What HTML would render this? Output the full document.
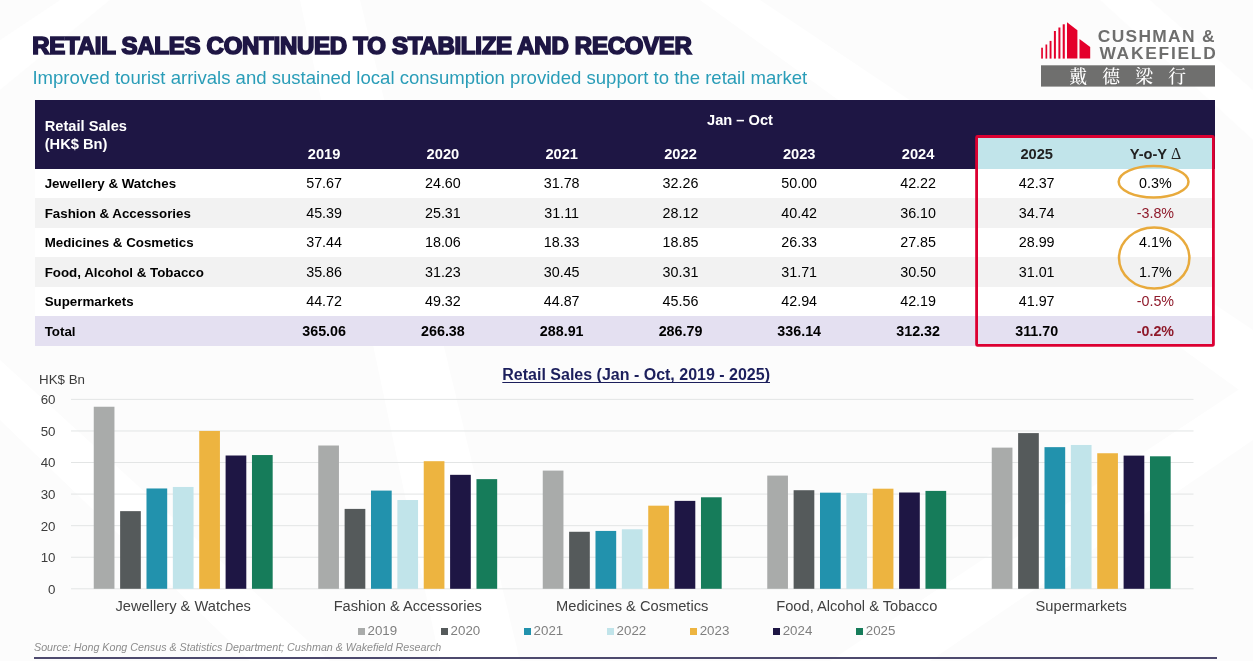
<!DOCTYPE html>
<html lang="en"><head><meta charset="utf-8"><title>Retail Sales</title>
<style>
html,body{margin:0;padding:0;}
body{width:1253px;height:661px;position:relative;overflow:hidden;background:#fefefe;font-family:"Liberation Sans","Noto Sans CJK SC",sans-serif;color:#000;}
.abs{position:absolute;white-space:nowrap;}
#sub{left:32.4px;top:66.8px;font-size:18.57px;line-height:22px;color:#2a9db8;}
#thead{left:35px;top:100px;width:1180px;height:69px;background:#1e1644;}
.row{left:35px;width:1180px;}
.c{position:absolute;white-space:nowrap;transform:translateX(-50%);font-size:13.33px;line-height:16px;text-align:center;}
.l{position:absolute;white-space:nowrap;left:44.7px;font-size:13.33px;line-height:16px;font-weight:bold;}
.b{font-weight:bold;}
.n{font-size:14.3px;}
.w{color:#fff;}
.red{color:#8f1a2b;}
#bluehd{left:978px;top:138px;width:234.5px;height:31px;background:#c1e4ea;}
.cat{position:absolute;transform:translateX(-50%);white-space:nowrap;font-size:14.67px;line-height:18px;color:#404040;top:597px;}
.leg{position:absolute;white-space:nowrap;font-size:13.33px;line-height:16px;color:#7f7f7f;top:623px;}
.leg i{position:absolute;left:0;top:5px;width:7px;height:7px;}
.leg span{margin-left:9.5px;}
</style></head><body>

<svg class="abs" id="bg" style="left:0;top:0;" width="1253" height="661" viewBox="0 0 1253 661"><rect width="1253" height="661" fill="#fcfcfc"/><g fill="#ffffff"><polygon points="0,40 60,0 110,0 0,90"/><polygon points="300,0 360,0 520,661 440,661"/><polygon points="700,0 760,0 1253,330 1253,400"/><polygon points="1100,0 1150,0 1253,90 1253,140"/><polygon points="830,661 1253,380 1253,440 930,661"/><polygon points="0,420 0,360 330,661 250,661"/></g></svg>
<svg class="abs" id="title" style="left:20px;top:25px;" width="700" height="40" viewBox="20 25 700 40"><text x="32.3" y="53.6" font-family="Liberation Sans, sans-serif" font-weight="bold" font-size="24" letter-spacing="-0.27" word-spacing="0" fill="#1e1644" stroke="#1e1644" stroke-width="1.7" stroke-linejoin="miter" paint-order="stroke fill">RETAIL SALES CONTINUED TO STABILIZE AND RECOVER</text></svg>
<div class="abs" id="sub">Improved tourist arrivals and sustained local consumption provided support to the retail market</div>
<svg class="abs" id="logo" style="left:1036px;top:18px;" width="184" height="72" viewBox="1036 18 184 72">
<g fill="#e4002b">
<rect x="1041.2" y="47.7" width="1.7" height="10.9"/>
<rect x="1045.5" y="44.5" width="1.7" height="14.1"/>
<rect x="1049.6" y="40.9" width="1.9" height="17.7"/>
<rect x="1053.9" y="31" width="2" height="27.6"/>
<rect x="1058.4" y="27.5" width="2" height="31.1"/>
<rect x="1062.7" y="24.3" width="2.1" height="34.3"/>
<polygon points="1067,22.2 1077.4,30.2 1077.4,58.6 1067,58.6"/>
<polygon points="1079.5,39 1090.2,47 1090.2,58.6 1079.5,58.6"/>
</g>
<rect x="1041" y="65.3" width="174" height="21.3" fill="#6f6f6e"/>
<text transform="translate(1097.8,41.9) scale(1.1,1)" font-family="Liberation Sans, sans-serif" font-weight="bold" font-size="15.8" letter-spacing="1.2" fill="#6e6e6d">CUSHMAN &amp;</text>
<text transform="translate(1099.4,58.6) scale(1.1,1)" font-family="Liberation Sans, sans-serif" font-weight="bold" font-size="15.8" letter-spacing="1.6" fill="#6e6e6d">WAKEFIELD</text>
<text x="1069.3" y="82.6" font-family="Noto Serif CJK SC, serif" font-weight="500" font-size="17.8" letter-spacing="15.2" fill="#ffffff">戴德梁行</text>
</svg>
<div class="abs" id="thead"></div>
<div class="abs" id="bluehd"></div>
<div class="l w" style="top:117.7px;font-size:14.67px;">Retail Sales</div>
<div class="l w" style="top:136px;font-size:14.67px;">(HK$ Bn)</div>
<div class="c b w" style="font-size:14.67px;left:740px;top:112px;">Jan – Oct</div>
<div class="c b w" style="font-size:14.67px;left:324.1px;top:146px;">2019</div>
<div class="c b w" style="font-size:14.67px;left:442.9px;top:146px;">2020</div>
<div class="c b w" style="font-size:14.67px;left:561.7px;top:146px;">2021</div>
<div class="c b w" style="font-size:14.67px;left:680.5px;top:146px;">2022</div>
<div class="c b w" style="font-size:14.67px;left:799.2px;top:146px;">2023</div>
<div class="c b w" style="font-size:14.67px;left:918.1px;top:146px;">2024</div>
<div class="c b" style="font-size:14.67px;left:1036.7px;top:146px;color:#222;">2025</div>
<div class="c b" style="font-size:14.67px;left:1155.4px;top:146px;color:#222;">Y-o-Y <span style="font-family:'Liberation Serif',serif;font-weight:normal;font-size:15.8px;line-height:10px;">Δ</span></div>
<div class="abs row" style="top:169px;height:29px;background:#ffffff;"></div>
<div class="l" style="top:176.20px;">Jewellery & Watches</div>
<div class="c n" style="left:324.1px;top:175.25px;">57.67</div>
<div class="c n" style="left:442.9px;top:175.25px;">24.60</div>
<div class="c n" style="left:561.7px;top:175.25px;">31.78</div>
<div class="c n" style="left:680.5px;top:175.25px;">32.26</div>
<div class="c n" style="left:799.2px;top:175.25px;">50.00</div>
<div class="c n" style="left:918.1px;top:175.25px;">42.22</div>
<div class="c n" style="left:1036.7px;top:175.25px;">42.37</div>
<div class="c n" style="left:1155.4px;top:175.25px;">0.3%</div>
<div class="abs row" style="top:198px;height:30px;background:#f2f2f2;"></div>
<div class="l" style="top:205.75px;">Fashion & Accessories</div>
<div class="c n" style="left:324.1px;top:204.80px;">45.39</div>
<div class="c n" style="left:442.9px;top:204.80px;">25.31</div>
<div class="c n" style="left:561.7px;top:204.80px;">31.11</div>
<div class="c n" style="left:680.5px;top:204.80px;">28.12</div>
<div class="c n" style="left:799.2px;top:204.80px;">40.42</div>
<div class="c n" style="left:918.1px;top:204.80px;">36.10</div>
<div class="c n" style="left:1036.7px;top:204.80px;">34.74</div>
<div class="c n red" style="left:1155.4px;top:204.80px;">-3.8%</div>
<div class="abs row" style="top:228px;height:29px;background:#ffffff;"></div>
<div class="l" style="top:235.30px;">Medicines & Cosmetics</div>
<div class="c n" style="left:324.1px;top:234.35px;">37.44</div>
<div class="c n" style="left:442.9px;top:234.35px;">18.06</div>
<div class="c n" style="left:561.7px;top:234.35px;">18.33</div>
<div class="c n" style="left:680.5px;top:234.35px;">18.85</div>
<div class="c n" style="left:799.2px;top:234.35px;">26.33</div>
<div class="c n" style="left:918.1px;top:234.35px;">27.85</div>
<div class="c n" style="left:1036.7px;top:234.35px;">28.99</div>
<div class="c n" style="left:1155.4px;top:234.35px;">4.1%</div>
<div class="abs row" style="top:257px;height:30px;background:#f2f2f2;"></div>
<div class="l" style="top:264.85px;">Food, Alcohol & Tobacco</div>
<div class="c n" style="left:324.1px;top:263.90px;">35.86</div>
<div class="c n" style="left:442.9px;top:263.90px;">31.23</div>
<div class="c n" style="left:561.7px;top:263.90px;">30.45</div>
<div class="c n" style="left:680.5px;top:263.90px;">30.31</div>
<div class="c n" style="left:799.2px;top:263.90px;">31.71</div>
<div class="c n" style="left:918.1px;top:263.90px;">30.50</div>
<div class="c n" style="left:1036.7px;top:263.90px;">31.01</div>
<div class="c n" style="left:1155.4px;top:263.90px;">1.7%</div>
<div class="abs row" style="top:287px;height:29px;background:#ffffff;"></div>
<div class="l" style="top:294.40px;">Supermarkets</div>
<div class="c n" style="left:324.1px;top:293.45px;">44.72</div>
<div class="c n" style="left:442.9px;top:293.45px;">49.32</div>
<div class="c n" style="left:561.7px;top:293.45px;">44.87</div>
<div class="c n" style="left:680.5px;top:293.45px;">45.56</div>
<div class="c n" style="left:799.2px;top:293.45px;">42.94</div>
<div class="c n" style="left:918.1px;top:293.45px;">42.19</div>
<div class="c n" style="left:1036.7px;top:293.45px;">41.97</div>
<div class="c n red" style="left:1155.4px;top:293.45px;">-0.5%</div>
<div class="abs row" style="top:316px;height:30px;background:#e4e0f1;"></div>
<div class="l" style="top:323.95px;">Total</div>
<div class="c n b" style="left:324.1px;top:323.00px;">365.06</div>
<div class="c n b" style="left:442.9px;top:323.00px;">266.38</div>
<div class="c n b" style="left:561.7px;top:323.00px;">288.91</div>
<div class="c n b" style="left:680.5px;top:323.00px;">286.79</div>
<div class="c n b" style="left:799.2px;top:323.00px;">336.14</div>
<div class="c n b" style="left:918.1px;top:323.00px;">312.32</div>
<div class="c n b" style="left:1036.7px;top:323.00px;">311.70</div>
<div class="c n b red" style="left:1155.4px;top:323.00px;">-0.2%</div>
<svg class="abs" style="left:970px;top:130px;" width="250" height="222" viewBox="970 130 250 222"><rect x="976.6" y="136.5" width="236.8" height="208.9" rx="1" fill="none" stroke="#dc0032" stroke-width="2.8"/></svg>
<svg class="abs" style="left:1110px;top:160px;" width="90" height="135" viewBox="1110 160 90 135" fill="none" stroke="#e8aa3c" stroke-width="2.5">
<ellipse cx="1153.6" cy="181.75" rx="34.9" ry="15.7"/>
<ellipse cx="1154.2" cy="258" rx="35.2" ry="30.6"/>
</svg>
<div class="abs" style="left:39px;top:372px;font-size:13.33px;line-height:16px;color:#3c3c3c;">HK$ Bn</div>
<div class="abs" style="left:502.3px;top:365px;font-size:16px;line-height:20px;font-weight:bold;color:#1c1f5c;text-decoration:underline;text-decoration-thickness:1.2px;text-underline-offset:1.5px;text-decoration-skip-ink:none;">Retail Sales (Jan - Oct, 2019 - 2025)</div>
<div class="cat" style="left:183.2px;">Jewellery & Watches</div>
<div class="cat" style="left:407.8px;">Fashion & Accessories</div>
<div class="cat" style="left:632.2px;">Medicines & Cosmetics</div>
<div class="cat" style="left:856.8px;">Food, Alcohol & Tobacco</div>
<div class="cat" style="left:1081.2px;">Supermarkets</div>
<svg class="abs" style="left:0;top:390px;" width="1253" height="210" viewBox="0 390 1253 210"><rect x="71" y="588.30" width="1122.5" height="1" fill="#e3e5e5"/><text x="55.5" y="593.65" text-anchor="end" font-family="Liberation Sans, sans-serif" font-size="13.33" fill="#3c3c3c">0</text><rect x="71" y="556.73" width="1122.5" height="1" fill="#e3e5e5"/><text x="55.5" y="562.08" text-anchor="end" font-family="Liberation Sans, sans-serif" font-size="13.33" fill="#3c3c3c">10</text><rect x="71" y="525.16" width="1122.5" height="1" fill="#e3e5e5"/><text x="55.5" y="530.51" text-anchor="end" font-family="Liberation Sans, sans-serif" font-size="13.33" fill="#3c3c3c">20</text><rect x="71" y="493.59" width="1122.5" height="1" fill="#e3e5e5"/><text x="55.5" y="498.94" text-anchor="end" font-family="Liberation Sans, sans-serif" font-size="13.33" fill="#3c3c3c">30</text><rect x="71" y="462.02" width="1122.5" height="1" fill="#e3e5e5"/><text x="55.5" y="467.37" text-anchor="end" font-family="Liberation Sans, sans-serif" font-size="13.33" fill="#3c3c3c">40</text><rect x="71" y="430.45" width="1122.5" height="1" fill="#e3e5e5"/><text x="55.5" y="435.80" text-anchor="end" font-family="Liberation Sans, sans-serif" font-size="13.33" fill="#3c3c3c">50</text><rect x="71" y="398.88" width="1122.5" height="1" fill="#e3e5e5"/><text x="55.5" y="404.23" text-anchor="end" font-family="Liberation Sans, sans-serif" font-size="13.33" fill="#3c3c3c">60</text><rect x="93.75" y="406.74" width="20.7" height="182.06" fill="#a9abaa"/><rect x="120.12" y="511.14" width="20.7" height="77.66" fill="#555a5b"/><rect x="146.49" y="488.47" width="20.7" height="100.33" fill="#2292ad"/><rect x="172.86" y="486.96" width="20.7" height="101.84" fill="#c1e4ea"/><rect x="199.23" y="430.95" width="20.7" height="157.85" fill="#edb440"/><rect x="225.60" y="455.51" width="20.7" height="133.29" fill="#1e1644"/><rect x="251.97" y="455.04" width="20.7" height="133.76" fill="#167c5a"/><rect x="318.25" y="445.50" width="20.7" height="143.30" fill="#a9abaa"/><rect x="344.62" y="508.90" width="20.7" height="79.90" fill="#555a5b"/><rect x="370.99" y="490.59" width="20.7" height="98.21" fill="#2292ad"/><rect x="397.36" y="500.03" width="20.7" height="88.77" fill="#c1e4ea"/><rect x="423.73" y="461.19" width="20.7" height="127.61" fill="#edb440"/><rect x="450.10" y="474.83" width="20.7" height="113.97" fill="#1e1644"/><rect x="476.47" y="479.13" width="20.7" height="109.67" fill="#167c5a"/><rect x="542.75" y="470.60" width="20.7" height="118.20" fill="#a9abaa"/><rect x="569.12" y="531.78" width="20.7" height="57.02" fill="#555a5b"/><rect x="595.49" y="530.93" width="20.7" height="57.87" fill="#2292ad"/><rect x="621.86" y="529.29" width="20.7" height="59.51" fill="#c1e4ea"/><rect x="648.23" y="505.68" width="20.7" height="83.12" fill="#edb440"/><rect x="674.60" y="500.88" width="20.7" height="87.92" fill="#1e1644"/><rect x="700.97" y="497.28" width="20.7" height="91.52" fill="#167c5a"/><rect x="767.25" y="475.59" width="20.7" height="113.21" fill="#a9abaa"/><rect x="793.62" y="490.21" width="20.7" height="98.59" fill="#555a5b"/><rect x="819.99" y="492.67" width="20.7" height="96.13" fill="#2292ad"/><rect x="846.36" y="493.11" width="20.7" height="95.69" fill="#c1e4ea"/><rect x="872.73" y="488.69" width="20.7" height="100.11" fill="#edb440"/><rect x="899.10" y="492.51" width="20.7" height="96.29" fill="#1e1644"/><rect x="925.47" y="490.90" width="20.7" height="97.90" fill="#167c5a"/><rect x="991.75" y="447.62" width="20.7" height="141.18" fill="#a9abaa"/><rect x="1018.12" y="433.10" width="20.7" height="155.70" fill="#555a5b"/><rect x="1044.49" y="447.15" width="20.7" height="141.65" fill="#2292ad"/><rect x="1070.86" y="444.97" width="20.7" height="143.83" fill="#c1e4ea"/><rect x="1097.23" y="453.24" width="20.7" height="135.56" fill="#edb440"/><rect x="1123.60" y="455.61" width="20.7" height="133.19" fill="#1e1644"/><rect x="1149.97" y="456.30" width="20.7" height="132.50" fill="#167c5a"/></svg>
<div class="leg" style="left:358.0px;"><i style="background:#a9abaa;"></i><span>2019</span></div>
<div class="leg" style="left:441.1px;"><i style="background:#555a5b;"></i><span>2020</span></div>
<div class="leg" style="left:524.1px;"><i style="background:#2292ad;"></i><span>2021</span></div>
<div class="leg" style="left:607.1px;"><i style="background:#c1e4ea;"></i><span>2022</span></div>
<div class="leg" style="left:690.2px;"><i style="background:#edb440;"></i><span>2023</span></div>
<div class="leg" style="left:773.2px;"><i style="background:#1e1644;"></i><span>2024</span></div>
<div class="leg" style="left:856.3px;"><i style="background:#167c5a;"></i><span>2025</span></div>
<div class="abs" style="left:34px;top:641px;font-size:10.7px;line-height:13px;font-style:italic;color:#8c8c8c;">Source: Hong Kong Census &amp; Statistics Department; Cushman &amp; Wakefield Research</div>
<div class="abs" style="left:34px;top:657px;width:1182.5px;height:2px;background:#4d4a6e;"></div>
</body></html>
